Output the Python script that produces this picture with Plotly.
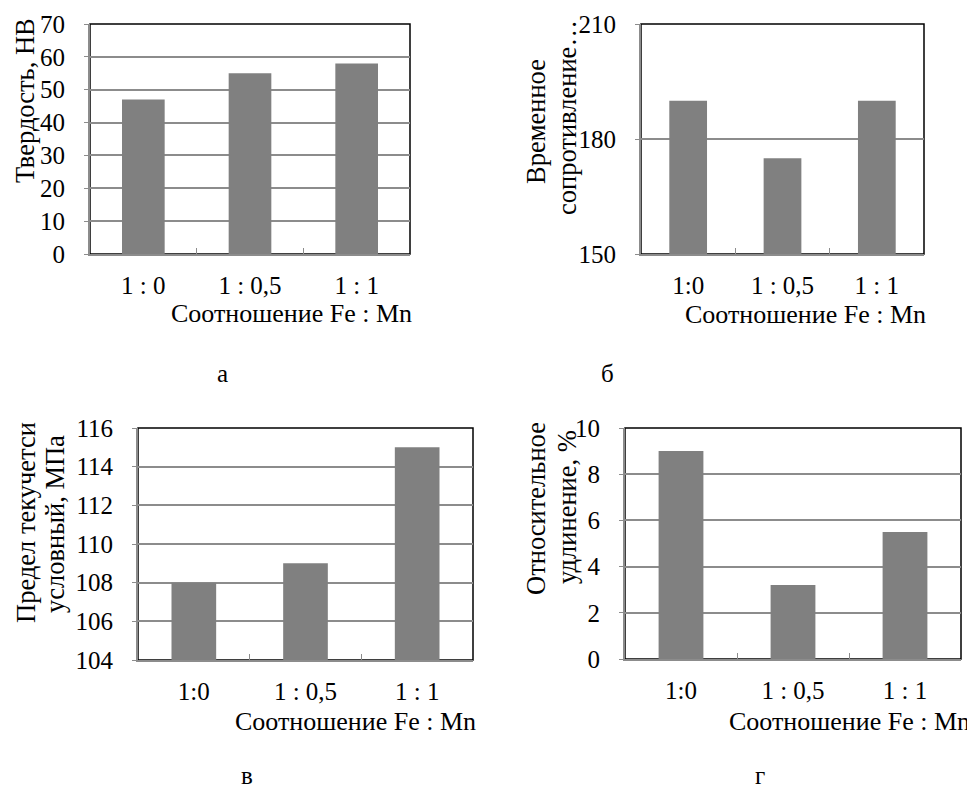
import plotly.graph_objects as go

# ---- data ----
cats_a = ["1 : 0", "1 : 0,5", "1 : 1"]
vals_a = [47, 55, 58]
cats_b = ["1:0", "1 : 0,5", "1 : 1"]
vals_b = [190, 175, 190]
cats_c = ["1:0", "1 : 0,5", "1 : 1"]
vals_c = [108, 109, 115]
cats_d = ["1:0", "1 : 0,5", "1 : 1"]
vals_d = [9, 3.2, 5.5]

OFF = 8                      # page body margin of the browser
W, H = 975 - OFF, 791 - OFF  # figure size that fits inside the window
FONT = "Liberation Serif, Times New Roman, serif"
FS = 25
BAR = "#808080"
GRID = "#8c8c8c"

def fx(px):
    return (px - OFF) / W

def fy(py):
    return 1 - (py - OFF) / H

# panels: (x0, x1, y0, y1) pixel boxes of plot areas (window pixels)
boxes = [(90, 410, 24, 254), (641, 924, 24, 254), (138, 473, 428, 660), (625, 961, 428, 659)]
ranges = [(0, 70, 10), (150, 210, 30), (104, 116, 2), (0, 10, 2)]
cats = [cats_a, cats_b, cats_c, cats_d]
vals = [vals_a, vals_b, vals_c, vals_d]

fig = go.Figure()
layout = dict(
    width=W, height=H, margin=dict(l=0, r=0, t=0, b=0, autoexpand=False),
    paper_bgcolor="white", plot_bgcolor="white", showlegend=False,
    bargap=0.6, font=dict(family=FONT, size=FS, color="black"),
)
shapes = []
for i, (box, rg, c, v) in enumerate(zip(boxes, ranges, cats, vals)):
    n = "" if i == 0 else str(i + 1)
    x0, x1, y0, y1 = box
    fig.add_trace(go.Bar(x=c, y=v, marker=dict(color=BAR, line=dict(width=0)),
                         xaxis="x" + n, yaxis="y" + n, hoverinfo="skip"))
    layout["xaxis" + n] = dict(
        domain=[fx(x0), fx(x1)], anchor="y" + n, type="category", automargin=False,
        showline=True, linecolor=GRID, linewidth=2, ticks="inside", tickson="boundaries",
        ticklen=6, tickcolor=GRID, showgrid=False, ticklabelstandoff=8,
        tickfont=dict(family=FONT, size=FS, color="black"),
    )
    layout["yaxis" + n] = dict(
        domain=[fy(y1), fy(y0)], anchor="x" + n, range=[rg[0], rg[1]],
        dtick=rg[2], tick0=rg[0], showline=True, linecolor=GRID, linewidth=2,
        automargin=False,
        showgrid=True, gridcolor=GRID, gridwidth=1.5, ticks="outside", ticklen=4,
        tickcolor=GRID, ticklabelstandoff=14, zeroline=False,
        tickfont=dict(family=FONT, size=FS, color="black"),
    )
    shapes.append(dict(type="rect", xref="paper", yref="paper", layer="below",
                       x0=fx(x0), x1=fx(x1), y0=fy(y1), y1=fy(y0),
                       line=dict(color="black", width=1.5)))
layout["shapes"] = shapes

ann = []
def A(text, x, y, angle=0, xanchor="center", size=FS, yanchor="middle"):
    ann.append(dict(text=text, x=fx(x), y=fy(y), xref="paper", yref="paper",
                    showarrow=False, textangle=angle, xanchor=xanchor, yanchor=yanchor,
                    font=dict(family=FONT, size=size, color="black")))

YT = 26.5
# y titles (one annotation per line)
A("Твердость, HB", 25, 101, -90, size=YT)
A("Временное", 536, 122, -90, size=YT)
A("сопротивление…", 567, 118, -90, size=YT)
A("Предел текучетси", 26, 523, -90, size=YT)
A("условный, МПа", 55, 524, -90, size=YT)
A("Относительное", 536, 509, -90, size=YT)
A("удлинение, %", 567, 507, -90, size=YT)
# x titles
A("Соотношение Fe : Mn", 414, 313, xanchor="right", size=26)
A("Соотношение Fe : Mn", 928, 314, xanchor="right", size=26)
A("Соотношение Fe : Mn", 478, 721, xanchor="right", size=26)
A("Соотношение Fe : Mn", 972, 721, xanchor="right", size=26)
# panel letters
A("а", 222, 374)
A("б", 607, 374)
A("в", 247, 791, yanchor="bottom")
A("г", 760, 791, yanchor="bottom")
layout["annotations"] = ann

fig.update_layout(**layout)
fig.write_html("out.html")
